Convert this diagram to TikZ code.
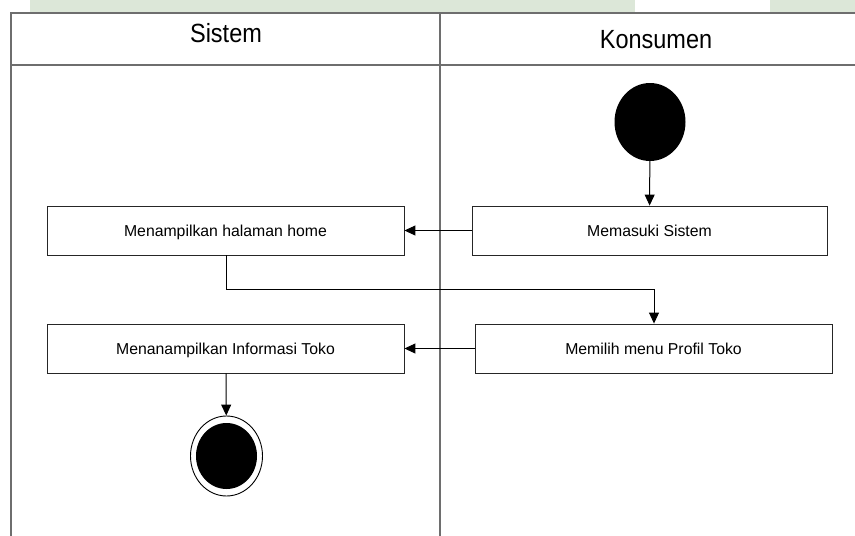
\documentclass[tikz,border=0pt]{standalone}
\usepackage{fontspec}
\setmainfont{Liberation Sans}
\usetikzlibrary{arrows.meta,shapes.geometric}
\definecolor{wm}{HTML}{DCE7D8}
\definecolor{frame}{HTML}{6E6E6E}
\tikzset{
  act/.style={draw=black!85, line width=0.9pt, minimum width=357pt, minimum height=49pt, inner sep=0pt, text height=14pt, text depth=2pt, font=\fontsize{15.8}{18}\selectfont},
  lane/.style={draw=frame, line width=1.2pt},
  flow/.style={draw=black, line width=1pt, -{Triangle[length=11pt,width=10pt]}},
  hdr/.style={font=\fontsize{23.5}{26}\selectfont, inner sep=0pt, yscale=1.12}
}
\begin{document}
\begin{tikzpicture}[x=1pt,y=-1pt]
\useasboundingbox (0,0) rectangle (855,536);
% faint watermark strip
\fill[wm] (30,0) rectangle (635,12);
\fill[wm] (770,0) rectangle (855,12);
% swimlanes
\draw[lane] (855,13) -- (11,13) -- (11,536);
\draw[lane] (11,65) -- (855,65);
\draw[lane] (440,13) -- (440,536);
\node[hdr] (hs) at (226,33) {Sistem};
\node[hdr] (hk) at (656,40) {Konsumen};
% nodes
\node[ellipse, fill=black, minimum width=71pt, minimum height=78pt, inner sep=0pt] (start) at (650,122) {};
\node[act, minimum width=355pt] (masuk) at (649.5,230.5) {Memasuki Sistem};
\node[act] (home) at (225.5,230.5) {Menampilkan halaman home};
\node[act] (profil) at (653.5,348.5) {Memilih menu Profil Toko};
\node[act] (info) at (225.5,348.5) {Menanampilkan Informasi Toko};
\node[ellipse, draw=black, line width=0.9pt, minimum width=72pt, minimum height=80pt, inner sep=0pt] (endo) at (226.5,456) {};
\node[ellipse, fill=black, minimum width=61pt, minimum height=66pt, inner sep=0pt] (endi) at (226.5,456) {};
% flows
\draw[flow] (start) -- (masuk);
\draw[flow] (masuk) -- (home);
\draw[flow] (home.south -| 226,0) |- (654,289) -- (profil.north -| 654,0);
\draw[flow] (profil) -- (info);
\draw[flow] (info.south -| 226,0) -- (endo);
\end{tikzpicture}
\end{document}
